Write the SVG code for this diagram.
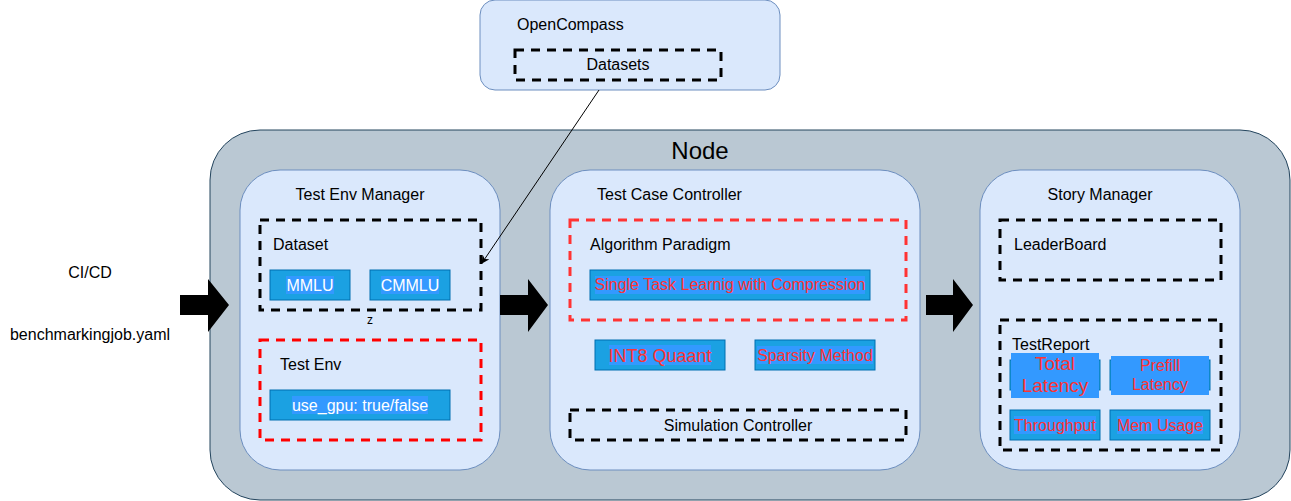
<svg xmlns="http://www.w3.org/2000/svg" width="1291" height="501" viewBox="0 0 1291 501">
<defs>
<style>
text{font-family:"Liberation Sans",Arial,sans-serif;font-size:16px;fill:#000}
.panel{fill:#dae8fc;stroke:#6c8ebf;stroke-width:1}
.dash{fill:none;stroke:#000;stroke-width:3;stroke-dasharray:9 7}
.rdash{fill:none;stroke:#ff0000;stroke-width:3;stroke-dasharray:9 7}
.r2dash{fill:none;stroke:#ff3333;stroke-width:3;stroke-dasharray:9 7}
.blue{fill:#1ba1e2;stroke:#006eaf;stroke-width:1}
.lbg{fill:#3399ff}
.w{fill:#fff}
.red{fill:#ff3333}
.c{text-anchor:middle}
</style>
<marker id="ah" viewBox="0 0 10 10" refX="9" refY="5" markerWidth="8" markerHeight="8" orient="auto" markerUnits="userSpaceOnUse"><path d="M0,0 L10,5 L0,10 L3,5 Z" fill="#000"/></marker>
</defs>
<rect width="1291" height="501" fill="#fff"/>
<g id="node">
<rect x="210" y="130" width="1080" height="370" rx="50" fill="#bac8d3" stroke="#23445d"/>
<text x="700" y="159" class="c" style="font-size:24px">Node</text>
</g>
<g id="opencompass">
<rect x="480" y="0" width="300" height="90" rx="15" class="panel"/>
<text x="517" y="30">OpenCompass</text>
<rect x="515" y="50" width="206" height="30" class="dash"/>
<text x="618" y="70" class="c">Datasets</text>
</g>
<g id="cicd">
<text x="90" y="278" class="c">CI/CD</text>
<text x="90" y="340" class="c">benchmarkingjob.yaml</text>
</g>
<g id="test-env-manager">
<rect x="240" y="170" width="260" height="300" rx="40" class="panel"/>
<text x="360" y="200" class="c">Test Env Manager</text>
<rect x="260" y="220" width="221" height="90" class="dash"/>
<text x="273" y="250">Dataset</text>
<rect x="270" y="270" width="80" height="30" class="blue"/>
<rect x="286" y="276" width="48" height="18" class="lbg"/>
<text x="310" y="291" class="c w">MMLU</text>
<rect x="370" y="270" width="80" height="30" class="blue"/>
<rect x="381" y="276" width="58" height="18" class="lbg"/>
<text x="410" y="291" class="c w">CMMLU</text>
<text x="370" y="324" class="c" style="font-size:12px">z</text>
<rect x="260" y="340" width="221" height="100" class="rdash"/>
<text x="280" y="370">Test Env</text>
<rect x="270" y="390" width="180" height="30" class="blue"/>
<rect x="292" y="396" width="136" height="18" class="lbg"/>
<text x="360" y="411" class="c w">use_gpu: true/false</text>
</g>
<g id="test-case-controller">
<rect x="550" y="170" width="370" height="300" rx="40" class="panel"/>
<text x="597" y="200">Test Case Controller</text>
<rect x="570" y="220" width="336" height="100" class="r2dash"/>
<text x="590" y="250">Algorithm Paradigm</text>
<rect x="590" y="270" width="280" height="30" class="blue"/>
<rect x="595" y="276" width="270" height="18" class="lbg"/>
<text x="730" y="290" class="c red">Single Task Learnig with Compression</text>
<rect x="595" y="340" width="130" height="30" class="blue"/>
<rect x="609" y="345" width="102" height="20" class="lbg"/>
<text x="660" y="362" class="c red" style="font-size:18px">INT8 Quaant</text>
<rect x="755" y="340" width="120" height="30" class="blue"/>
<rect x="757" y="346" width="116" height="18" class="lbg"/>
<text x="815" y="361" class="c red">Sparsity Method</text>
<rect x="570" y="410" width="336" height="30" class="dash"/>
<text x="738" y="431" class="c">Simulation Controller</text>
</g>
<g id="story-manager">
<rect x="980" y="170" width="260" height="300" rx="40" class="panel"/>
<text x="1100" y="200" class="c">Story Manager</text>
<rect x="1000" y="220" width="221" height="60" class="dash"/>
<text x="1014" y="250">LeaderBoard</text>
<rect x="1000" y="320" width="221" height="130" class="dash"/>
<text x="1012" y="350">TestReport</text>
<rect x="1010" y="360" width="90" height="30" class="blue"/>
<rect x="1011" y="353" width="88" height="45" class="lbg"/>
<text x="1055" y="370" class="c red" style="font-size:19px">Total</text>
<text x="1055" y="392" class="c red" style="font-size:19px">Latency</text>
<rect x="1110" y="360" width="100" height="30" class="blue"/>
<rect x="1111" y="356" width="98" height="39" class="lbg"/>
<text x="1160" y="371" class="c red">Prefill</text>
<text x="1160" y="390" class="c red">Latency</text>
<rect x="1010" y="410" width="90" height="30" class="blue"/>
<rect x="1014" y="416" width="82" height="18" class="lbg"/>
<text x="1055" y="431" class="c red">Throughput</text>
<rect x="1110" y="410" width="100" height="30" class="blue"/>
<rect x="1117" y="416" width="86" height="18" class="lbg"/>
<text x="1160" y="431" class="c red">Mem Usage</text>
</g>
<g id="connectors">
<path d="M180,295 H208 V279 L229,305 L208,332 V315 H180 Z" fill="#000"/>
<path d="M500,295 H528 V279 L548,305 L528,332 V315 H500 Z" fill="#000"/>
<path d="M926,295 H953 V279 L973,305 L953,332 V315 H926 Z" fill="#000"/>
<line x1="599" y1="90" x2="482" y2="263" stroke="#000" stroke-width="1" marker-end="url(#ah)"/>
</g>
</svg>
